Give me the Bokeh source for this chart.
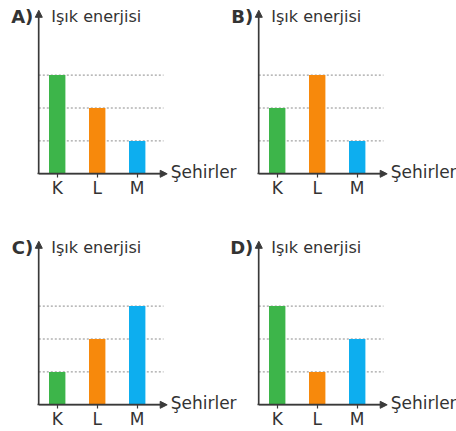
from bokeh.plotting import figure
from bokeh.models import (Range1d, LinearAxis, FixedTicker, Arrow, NormalHead,
                          Label, ColumnDataSource)
from bokeh.embed import file_html
from bokeh.resources import INLINE

# ---------------- data ----------------
cities = ["K", "L", "M"]
panel_names = ["A)", "B)", "C)", "D)"]
values_A = [3, 2, 1]
values_B = [2, 3, 1]
values_C = [1, 2, 3]
values_D = [3, 1, 2]
bar_colors = ["#3db54a", "#f7890c", "#0daeef"]
levels = [1, 2, 3]
y_title = "Işık enerjisi"
x_title = "Şehirler"

# ---------------- layout (reference pixels) ----------------
W, H = 456, 431
COL_X = [38.3, 258.3]          # y-axis position of each column (px)
ROW_Y = [173.3, 404.3]         # x-axis position of each row (px)
UX = 40.0                      # px per category step
UY = 32.9                      # px per energy unit
FIRST = 0.46                   # first category distance from y-axis (units)
X0 = 1 - FIRST                 # data x of the y-axis
TEXT = "#333333"
AXIS = "#3a3a3a"
FONT = "DejaVu Sans"


def xr(c):
    return Range1d(X0 - COL_X[c] / UX, X0 + (W - COL_X[c]) / UX)


def yr(r):
    return Range1d((ROW_Y[r] - H) / UY, ROW_Y[r] / UY)


p = figure(width=W, height=H, x_range=xr(0), y_range=yr(0),
           x_axis_location=None, y_axis_location=None,
           min_border=0, outline_line_color=None, toolbar_location=None,
           output_backend="svg")
p.extra_x_ranges = {"c1": xr(1)}
p.extra_y_ranges = {"r1": yr(1)}
p.grid.visible = False
p.background_fill_color = "white"
p.border_fill_color = "white"

panels = [
    (panel_names[0], values_A, "default", "default"),
    (panel_names[1], values_B, "c1", "default"),
    (panel_names[2], values_C, "default", "r1"),
    (panel_names[3], values_D, "c1", "r1"),
]

X_ARROW = 3 + 30.0 / UX        # tip of the x arrow
X_DASH = 3 + 26.3 / UX         # end of the dashed guides
Y_ARROW = 4.97                 # tip of the y arrow

for name, vals, xn, yn in panels:
    xs = [i + 1 for i in range(len(cities))]
    src = ColumnDataSource(dict(x=xs, top=vals, color=bar_colors))
    # dashed guide lines
    p.segment(x0=X0, x1=X_DASH, y0=levels, y1=levels, line_color="#8c8c8c",
              line_width=1, line_dash="2 2", x_range_name=xn, y_range_name=yn)
    # bars
    p.vbar(x="x", top="top", bottom=0, width=0.41, fill_color="color",
           line_color=None, source=src, x_range_name=xn, y_range_name=yn)

    # x axis
    xa = LinearAxis(x_range_name=xn, y_range_name=yn, fixed_location=0,
                    bounds=(X0 - 0.04, X_ARROW - 0.1),
                    ticker=FixedTicker(ticks=xs),
                    major_label_overrides={x: c for x, c in zip(xs, cities)},
                    axis_line_color=AXIS, axis_line_width=1.3,
                    major_tick_line_color=AXIS, major_tick_line_width=1.2,
                    major_tick_in=0, major_tick_out=4,
                    minor_tick_line_color=None, major_label_standoff=0,
                    major_label_text_font=FONT,
                    major_label_text_font_size="17px",
                    major_label_text_color=TEXT)
    p.add_layout(xa, "below")
    # y axis
    ya = LinearAxis(x_range_name=xn, y_range_name=yn, fixed_location=X0,
                    bounds=(0, Y_ARROW - 0.1),
                    ticker=FixedTicker(ticks=[]),
                    axis_line_color=AXIS, axis_line_width=1.3,
                    major_tick_line_color=None, minor_tick_line_color=None,
                    major_label_text_font_size="0px")
    p.add_layout(ya, "left")

    # arrow heads
    p.add_layout(Arrow(x_start=X0, y_start=0, x_end=X_ARROW, y_end=0,
                       line_color=AXIS, line_width=1.3,
                       end=NormalHead(size=7, fill_color=AXIS, line_color=AXIS),
                       x_range_name=xn, y_range_name=yn))
    p.add_layout(Arrow(x_start=X0, y_start=0, x_end=X0, y_end=Y_ARROW,
                       line_color=AXIS, line_width=1.3,
                       end=NormalHead(size=7, fill_color=AXIS, line_color=AXIS),
                       x_range_name=xn, y_range_name=yn))

    # texts
    ty = Y_ARROW - 6.0 / UY
    p.add_layout(Label(x=X0 - 5.5 / UX, y=ty, text=name, text_align="right",
                       text_baseline="middle", text_font=FONT,
                       text_font_style="bold", text_font_size="18px",
                       text_color=TEXT, x_range_name=xn, y_range_name=yn))
    p.add_layout(Label(x=X0 + 12.5 / UX, y=ty, text=y_title, text_align="left",
                       text_baseline="middle", text_font=FONT,
                       text_font_size="16px", text_color=TEXT,
                       x_range_name=xn, y_range_name=yn))
    p.add_layout(Label(x=X_ARROW + 3.5 / UX, y=1.5 / UY, text=x_title,
                       text_align="left", text_baseline="middle",
                       text_font=FONT, text_font_size="17px", text_color=TEXT,
                       x_range_name=xn, y_range_name=yn))

open("out.html", "w").write(file_html(p, INLINE))
